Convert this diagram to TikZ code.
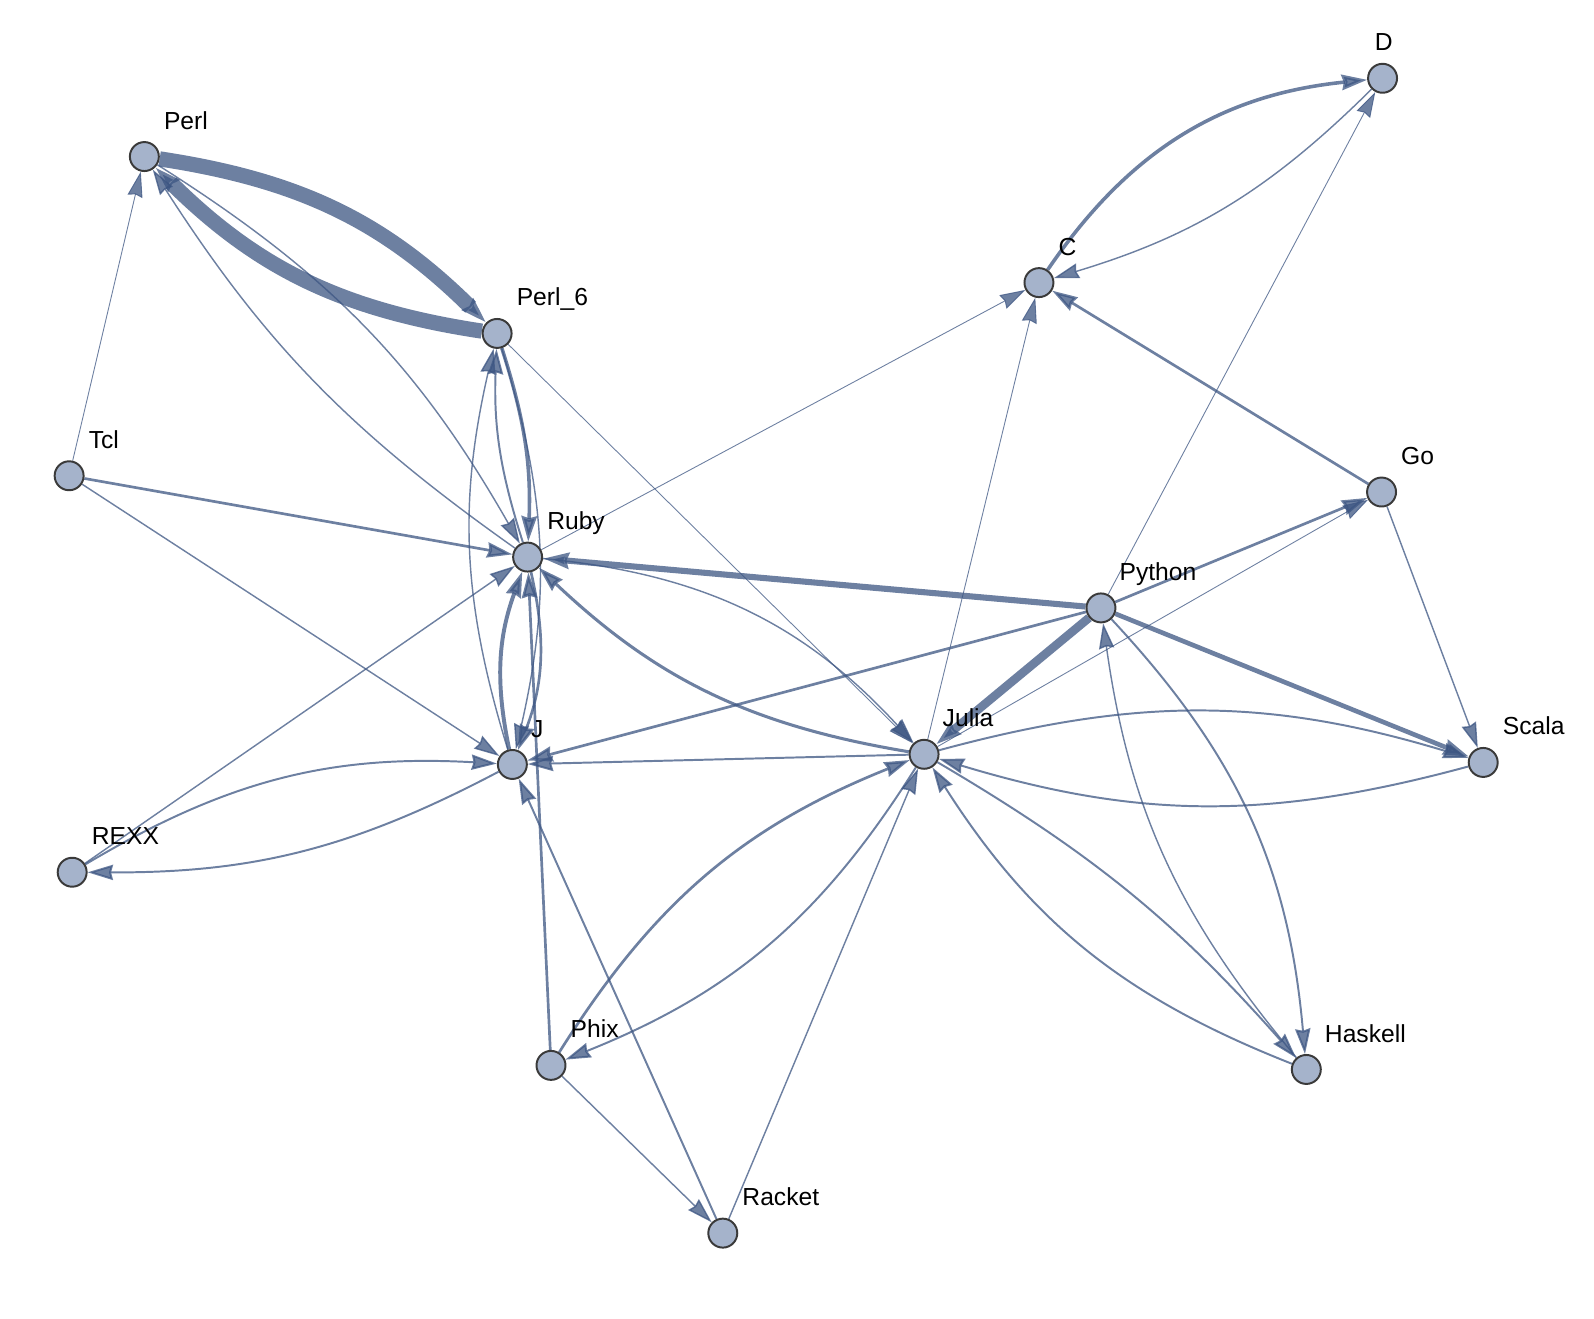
\documentclass[tikz,border=0pt]{standalone}
\usepackage{fontspec}
\setmainfont{Liberation Sans}
\usetikzlibrary{arrows.meta,backgrounds}
\definecolor{edgeblue}{RGB}{60,85,130}
\definecolor{vertfill}{RGB}{165,179,203}
\definecolor{vertline}{RGB}{58,58,58}
\tikzset{
	vert/.style={circle, draw=vertline, line width=1.1pt, fill=vertfill, minimum size=0.57cm, inner sep=0pt},
	lbl/.style={anchor=base west, inner sep=0pt, font=\fontsize{13.8}{16}\selectfont},
	edge/.style={draw=edgeblue, opacity=0.75, -{Stealth[length=0.5cm, width=0.3cm, inset=0.04cm]}},
	lwa/.style={line width=0.5pt},
	lwb/.style={line width=0.8pt},
	lwc/.style={line width=1.1pt},
	lwd/.style={line width=1.5pt},
}
\begin{document}
\begin{tikzpicture}[x=0.02cm, y=-0.02cm]
	\useasboundingbox (0,0) rectangle (1568,1297);
	% vertices
	\node[vert] (perl) at (142,154) {};
	\node[vert] (perlsix) at (489,328) {};
	\node[vert] (tcl) at (68,468) {};
	\node[vert] (ruby) at (519,548) {};
	\node[vert] (j) at (504,752) {};
	\node[vert] (rexx) at (71,858) {};
	\node[vert] (phix) at (542,1048) {};
	\node[vert] (racket) at (711,1213) {};
	\node[vert] (julia) at (909,742) {};
	\node[vert] (python) at (1083,598) {};
	\node[vert] (go) at (1359,484) {};
	\node[vert] (scala) at (1459,750) {};
	\node[vert] (haskell) at (1285,1052) {};
	\node[vert] (c) at (1022,278) {};
	\node[vert] (d) at (1360,77) {};
	% labels
	\node[lbl] (perl-l) at (161,127) {Perl};
	\node[lbl] (perlsix-l) at (508,301) {Perl\_6};
	\node[lbl] (tcl-l) at (87,441) {Tcl};
	\node[lbl] (ruby-l) at (538,521) {Ruby};
	\node[lbl] (j-l) at (522,725) {J};
	\node[lbl] (rexx-l) at (90,831) {REXX};
	\node[lbl] (phix-l) at (561,1021) {Phix};
	\node[lbl] (racket-l) at (730,1186) {Racket};
	\node[lbl] (julia-l) at (927,715) {Julia};
	\node[lbl] (python-l) at (1101,571) {Python};
	\node[lbl] (go-l) at (1378,457) {Go};
	\node[lbl] (scala-l) at (1478,723) {Scala};
	\node[lbl] (haskell-l) at (1303,1025) {Haskell};
	\node[lbl] (c-l) at (1041,251) {C};
	\node[lbl] (d-l) at (1352,50) {D};
	% edges
	\begin{scope}[on background layer]
		\draw[edge,line width=8.5pt] (perl) to[bend left=18] (perlsix);
		\draw[edge,line width=8.5pt] (perlsix) to[bend left=18] (perl);
		\draw[edge,lwa] (tcl) -- (perl);
		\draw[edge,lwb] (ruby) to[bend left=11] (perl);
		\draw[edge,lwb] (perl) to[bend left=14] (ruby);
		\draw[edge,line width=2pt] (perlsix) to[bend left=10] (ruby);
		\draw[edge,lwc] (ruby) to[bend left=10] (perlsix);
		\draw[edge,lwb] (j) to[bend left=15] (perlsix);
		\draw[edge,lwb] (perlsix) to[bend left=15] (j);
		\draw[edge,lwd] (ruby) to[bend left=17] (j);
		\draw[edge,line width=2.2pt] (j) to[bend left=16] (ruby);
		\draw[edge,lwd] (phix) -- (ruby);
		\draw[edge,lwd] (tcl) -- (ruby);
		\draw[edge,lwb] (tcl) -- (j);
		\draw[edge,lwb] (rexx) -- (ruby);
		\draw[edge,lwc] (rexx) to[bend left=17] (j);
		\draw[edge,lwc] (j) to[bend left=14] (rexx);
		\draw[edge,line width=3.4pt] (python) -- (ruby);
		\draw[edge,lwd] (python) -- (j);
		\draw[edge,line width=4.8pt] (python) -- (julia);
		\draw[edge,lwd] (python) -- (go);
		\draw[edge,lwa] (julia) -- (go);
		\draw[edge,line width=2.6pt] (python) -- (scala);
		\draw[edge,lwa] (python) -- (d);
		\draw[edge,lwc] (python) to[bend left=19] (haskell);
		\draw[edge,lwb] (haskell) to[bend left=16] (python);
		\draw[edge,lwc] (julia) to[bend left=9] (haskell);
		\draw[edge,lwc] (haskell) to[bend left=18] (julia);
		\draw[edge,lwc] (julia) to[bend left=16] (scala);
		\draw[edge,lwc] (scala) to[bend left=16] (julia);
		\draw[edge,lwb] (go) -- (scala);
		\draw[edge,lwd] (go) -- (c);
		\draw[edge,line width=2pt] (c) to[bend left=25] (d);
		\draw[edge,lwb] (d) to[bend left=14] (c);
		\draw[edge,lwa] (ruby) -- (c);
		\draw[edge,lwa] (julia) -- (c);
		\draw[edge,lwa] (perlsix) -- (julia);
		\draw[edge,lwb] (ruby) to[bend left=21] (julia);
		\draw[edge,line width=1.7pt] (julia) to[bend left=17] (ruby);
		\draw[edge,lwc] (julia) -- (j);
		\draw[edge,lwd] (phix) to[bend left=18] (julia);
		\draw[edge,lwc] (julia) to[bend left=18] (phix);
		\draw[edge,lwb] (phix) -- (racket);
		\draw[edge,lwc] (racket) -- (j);
		\draw[edge,lwb] (racket) -- (julia);
	\end{scope}
\end{tikzpicture}
\end{document}
